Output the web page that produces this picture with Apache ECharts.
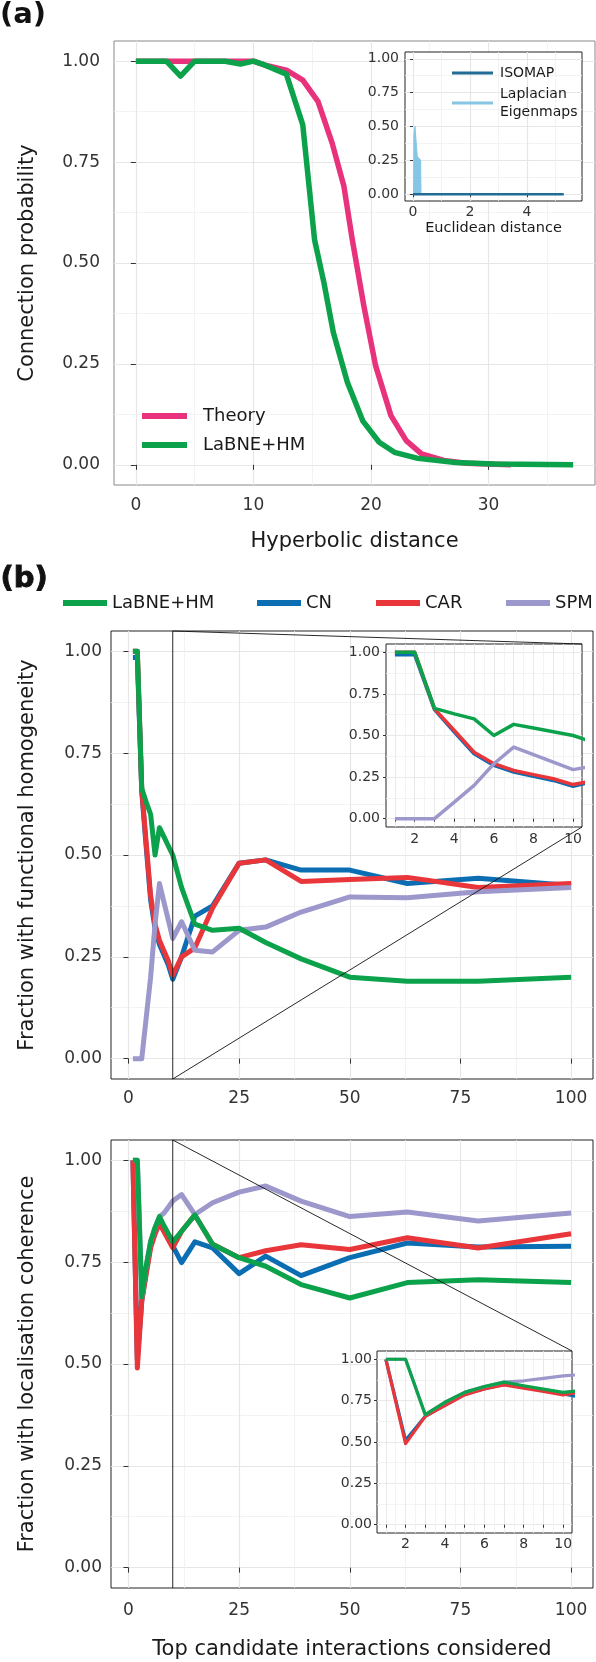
<!DOCTYPE html>
<html><head><meta charset="utf-8">
<script src="https://cdn.jsdelivr.net/npm/echarts@6/dist/echarts.min.js"></script>
<style>html,body{margin:0;padding:0;background:#fff}#c{width:596px;height:1662px}</style>
</head><body><div id="c"></div>
<script>
// ---------------- Panel (a) data ----------------
const theoryDist = [0, 10, 11, 12.8, 14.2, 15.5, 16.7, 17.7, 18.4, 19.4, 20.4, 21.7, 23.0, 24.3, 26.2, 28.1, 31.9];
const theoryProb = [1, 1, 0.99, 0.978, 0.953, 0.90, 0.797, 0.69, 0.56, 0.393, 0.245, 0.122, 0.06, 0.027, 0.011, 0.004, 0];
const labneDist = [0, 2.6, 3.8, 5.0, 7.6, 8.9, 10.0, 11.0, 12.8, 14.2, 15.2, 16.0, 16.8, 18.0, 19.3, 20.7, 22.0, 24.0, 27.2, 30.5, 37.2];
const labneProb = [1, 1, 0.963, 1, 1, 0.993, 1, 0.99, 0.968, 0.842, 0.558, 0.451, 0.328, 0.204, 0.109, 0.056, 0.031, 0.016, 0.006, 0.002, 0];
const isomapDist = [0, 5.29];
const isomapProb = [0, 0];
const lapDist = [0.02, 0.035, 0.07, 0.105, 0.13, 0.15, 0.2, 0.27, 0.28];
const lapProb = [0, 0.44, 0.50, 0.51, 0.50, 0.28, 0.27, 0.25, 0];
const aXTicks = [0, 10, 20, 30];
const aXMinor = [5, 15, 25, 35];
const probTicks = [0, 0.25, 0.5, 0.75, 1];
const probMinor = [0.125, 0.375, 0.625, 0.875];
const insetATicks = [0, 2, 4];
const insetAMinor = [1, 3, 5];

// ---------------- Panel (b) data ----------------
const topK = [1, 2, 3, 4, 5, 6, 7, 8, 9, 10, 12, 15, 19, 25, 31, 39, 50, 63, 79, 100];
const fhLabne = [1.0, 1.0, 0.663, 0.63, 0.60, 0.50, 0.567, 0.545, 0.522, 0.50, 0.42, 0.33, 0.315, 0.32, 0.285, 0.245, 0.20, 0.19, 0.19, 0.20];
const fhCN    = [0.985, 0.985, 0.655, 0.52, 0.39, 0.32, 0.28, 0.255, 0.23, 0.195, 0.25, 0.35, 0.375, 0.48, 0.488, 0.463, 0.463, 0.43, 0.443, 0.425];
const fhCAR   = [1.0, 1.0, 0.66, 0.53, 0.40, 0.33, 0.29, 0.265, 0.24, 0.205, 0.25, 0.272, 0.37, 0.48, 0.488, 0.435, 0.44, 0.445, 0.42, 0.43];
const fhSPM   = [0, 0, 0, 0.10, 0.20, 0.33, 0.43, 0.385, 0.34, 0.295, 0.336, 0.266, 0.262, 0.315, 0.323, 0.36, 0.397, 0.395, 0.41, 0.42];
const lcLabne = [1.0, 1.0, 0.665, 0.74, 0.80, 0.835, 0.862, 0.84, 0.82, 0.80, 0.826, 0.866, 0.794, 0.761, 0.74, 0.695, 0.662, 0.70, 0.707, 0.70];
const lcCN    = [1.0, 0.51, 0.655, 0.725, 0.79, 0.82, 0.85, 0.83, 0.81, 0.79, 0.749, 0.80, 0.785, 0.722, 0.765, 0.717, 0.761, 0.797, 0.787, 0.789];
const lcCAR   = [1.0, 0.49, 0.655, 0.72, 0.785, 0.82, 0.845, 0.825, 0.805, 0.785, 0.826, 0.866, 0.794, 0.761, 0.778, 0.793, 0.781, 0.81, 0.785, 0.82];
const lcSPM   = [1.0, 1.0, 0.665, 0.74, 0.80, 0.835, 0.862, 0.87, 0.885, 0.90, 0.916, 0.867, 0.896, 0.922, 0.937, 0.90, 0.862, 0.873, 0.851, 0.871];
const bXTicks = [0, 25, 50, 75, 100];
const bXMinor = [12.5, 37.5, 62.5, 87.5];
const zoomK = [1, 2, 3, 4, 5, 6, 7, 8, 9, 10];
const zoomKLabels = [2, 4, 6, 8, 10];
const zoomKMinor = [1.5, 2.5, 3.5, 4.5, 5.5, 6.5, 7.5, 8.5, 9.5];
const zoomMaxK = 10;
const methodNames = ['LaBNE+HM', 'CN', 'CAR', 'SPM'];

const FONT = 'DejaVu Sans';
const C = {green:'#0BA24B', pink:'#E8327C', blue:'#0B6DB2', red:'#E8363A', purple:'#9C98CB', iso:'#216D96', lap:'#86C6E4'};
const pairs = (xs, ys) => xs.map((x, i) => [x, ys[i]]);

const grids = [
  {left:114, top:41,   width:481, height:444, show:true, backgroundColor:'#fff', borderColor:'#888', borderWidth:1, z:0},
  {left:405, top:52,   width:177, height:149, show:true, backgroundColor:'#fff', borderColor:'#222', borderWidth:1, z:3},
  {left:111, top:631,  width:482, height:448, show:true, backgroundColor:'#fff', borderColor:'#222', borderWidth:1, z:0},
  {left:386, top:644,  width:196, height:183, show:true, backgroundColor:'#fff', borderColor:'#222', borderWidth:1, z:3},
  {left:111, top:1140, width:482, height:448, show:true, backgroundColor:'#fff', borderColor:'#222', borderWidth:1, z:0},
  {left:377, top:1351, width:195, height:182, show:true, backgroundColor:'#fff', borderColor:'#222', borderWidth:1, z:3}
];

const xAxes = [], yAxes = [];
function addAxis(list, kind, gi, c) {
  const z = c.z || 0;
  list.push({
    type:'value', gridIndex:gi, min:c.min, max:c.max, z:z,
    position: kind === 'x' ? 'bottom' : 'left',
    axisLine:{show:false},
    axisTick:{show:true, customValues:c.ticks, length:c.tickLen, lineStyle:{color:'#333', width:1}},
    axisLabel:{customValues:c.labels || c.ticks, formatter:c.fmt, fontFamily:FONT, fontSize:c.fontSize, color:'#333', margin:c.margin},
    splitLine:{show:true, lineStyle:{color:'#e6e6e6', width:c.gw || 1.2}},
    name:c.name || '', nameLocation:'middle', nameGap:c.nameGap || 0,
    nameTextStyle:{fontFamily:FONT, fontSize:c.nameSize || 21, color:'#1a1a1a'}
  });
  const idx = list.length - 1;
  list.push({
    type:'value', gridIndex:gi, min:c.min, max:c.max, z:z,
    position: kind === 'x' ? 'top' : 'right',
    axisLine:{show:false}, axisTick:{show:false, customValues:c.minor}, axisLabel:{show:false},
    splitLine:{show:true, lineStyle:{color:'#f0f0f0', width:c.mw || 0.8}}
  });
  return idx;
}
const f2 = v => v.toFixed(2);
const f0 = v => String(v);

// grid 0: panel (a) main
const ax0 = addAxis(xAxes, 'x', 0, {min:-1.86, max:39.06, ticks:aXTicks, minor:aXMinor, fmt:f0, fontSize:17, margin:12, tickLen:5, name:'Hyperbolic distance', nameGap:46});
const ay0 = addAxis(yAxes, 'y', 0, {min:-0.05, max:1.05, ticks:probTicks, minor:probMinor, fmt:f2, fontSize:17, margin:14, tickLen:5, name:'Connection probability', nameGap:76});
// grid 1: panel (a) inset
const ax1 = addAxis(xAxes, 'x', 1, {min:-0.28, max:5.93, ticks:insetATicks, minor:insetAMinor, fmt:f0, fontSize:14, margin:4, tickLen:3, name:'Euclidean distance', nameGap:20, nameSize:14.5, z:4});
const ay1 = addAxis(yAxes, 'y', 1, {min:-0.05, max:1.05, ticks:probTicks, minor:probMinor, fmt:f2, fontSize:14, margin:6, tickLen:3, z:4});
// grid 2: (b) functional homogeneity
const ax2 = addAxis(xAxes, 'x', 2, {min:-3.95, max:104.95, ticks:bXTicks, minor:bXMinor, fmt:f0, fontSize:17, margin:11, tickLen:5});
const ay2 = addAxis(yAxes, 'y', 2, {min:-0.05, max:1.05, ticks:probTicks, minor:probMinor, fmt:f2, fontSize:17, margin:9, tickLen:5, name:'Fraction with functional homogeneity', nameGap:73});
// grid 3: its inset
const ax3 = addAxis(xAxes, 'x', 3, {min:0.55, max:10.45, ticks:zoomK, labels:zoomKLabels, minor:zoomKMinor, fmt:f0, fontSize:14, margin:5, tickLen:3, gw:0.9, z:4});
const ay3 = addAxis(yAxes, 'y', 3, {min:-0.05, max:1.05, ticks:probTicks, minor:probMinor, fmt:f2, fontSize:14, margin:6, tickLen:3, gw:0.9, z:4});
// grid 4: (b) localisation coherence
const ax4 = addAxis(xAxes, 'x', 4, {min:-3.95, max:104.95, ticks:bXTicks, minor:bXMinor, fmt:f0, fontSize:17, margin:14, tickLen:5, name:'Top candidate interactions considered', nameGap:51});
const ay4 = addAxis(yAxes, 'y', 4, {min:-0.05, max:1.05, ticks:probTicks, minor:probMinor, fmt:f2, fontSize:17, margin:9, tickLen:5, name:'Fraction with localisation coherence', nameGap:73});
// grid 5: its inset
const ax5 = addAxis(xAxes, 'x', 5, {min:0.55, max:10.45, ticks:zoomK, labels:zoomKLabels, minor:zoomKMinor, fmt:f0, fontSize:14, margin:4, tickLen:3, gw:0.9, z:4});
const ay5 = addAxis(yAxes, 'y', 5, {min:-0.05, max:1.05, ticks:probTicks, minor:probMinor, fmt:f2, fontSize:14, margin:5, tickLen:3, gw:0.9, z:4});

function line(name, xi, yi, data, color, width, z, extra) {
  return Object.assign({
    type:'line', name:name, xAxisIndex:xi, yAxisIndex:yi, data:data,
    showSymbol:false, symbol:'none', color:color, itemStyle:{color:color},
    lineStyle:{color:color, width:width, cap:'butt', join:'round'},
    z:z, silent:true, clip:true
  }, extra || {});
}

const series = [
  line('Theory', ax0, ay0, pairs(theoryDist, theoryProb), C.pink, 5.5, 2),
  line('LaBNE+HM', ax0, ay0, pairs(labneDist, labneProb), C.green, 5.5, 3),
  line('Laplacian Eigenmaps', ax1, ay1, pairs(lapDist, lapProb), C.lap, 1, 6, {areaStyle:{color:C.lap, opacity:1}}),
  line('ISOMAP', ax1, ay1, pairs(isomapDist, isomapProb), C.iso, 2.5, 7)
];
function bSet(xi, yi, lab, cn, car, spm, w, zb) {
  series.push(line('CN', xi, yi, pairs(topK, cn), C.blue, w, zb));
  series.push(line('CAR', xi, yi, pairs(topK, car), C.red, w, zb + 1));
  series.push(line('SPM', xi, yi, pairs(topK, spm), C.purple, w, zb + 2));
  series.push(line('LaBNE+HM', xi, yi, pairs(topK, lab), C.green, w, zb + 3));
}
bSet(ax2, ay2, fhLabne, fhCN, fhCAR, fhSPM, 5, 2);
bSet(ax3, ay3, fhLabne, fhCN, fhCAR, fhSPM, 3.5, 6);
bSet(ax4, ay4, lcLabne, lcCN, lcCAR, lcSPM, 5, 2);
bSet(ax5, ay5, lcLabne, lcCN, lcCAR, lcSPM, 3.2, 6);

const legendText = {fontFamily:FONT, fontSize:18, color:'#1a1a1a', lineHeight:18};
const legends = [
  {data:['Theory', 'LaBNE+HM'], orient:'vertical', left:137, top:402, itemWidth:45, itemHeight:6, itemGap:11, icon:'rect',
   selectedMode:false, itemStyle:{borderWidth:0}, textStyle:Object.assign({padding:[0,0,0,11]}, legendText)},
  {data:['ISOMAP', 'Laplacian Eigenmaps'], orient:'vertical', left:447, top:59, itemWidth:41, itemHeight:3, itemGap:3, icon:'rect', z:8,
   selectedMode:false, itemStyle:{borderWidth:0}, formatter: n => n.replace(' ', '\n'),
   textStyle:{fontFamily:FONT, fontSize:14, color:'#1a1a1a', lineHeight:18, padding:[0,0,0,2]}}
];
const bLegendLeft = [63, 257, 376, 506];
methodNames.forEach((n, i) => legends.push({
  data:[n], orient:'horizontal', left:bLegendLeft[i], top:594, itemWidth:44, itemHeight:6, icon:'rect', padding:0,
  selectedMode:false, itemStyle:{borderWidth:0}, textStyle:legendText
}));

const labels = [
  {type:'text', id:'la', left:0, top:1, style:{text:'(a)', font:'bold 29px "DejaVu Sans"', fill:'#111'}},
  {type:'text', id:'lb', left:0, top:565, style:{text:'(b)', font:'bold 29px "DejaVu Sans"', fill:'#111'}}
];

const option = {
  animation:false, backgroundColor:'#fff', textStyle:{fontFamily:FONT},
  grid:grids, xAxis:xAxes, yAxis:yAxes, legend:legends, series:series, graphic:labels
};
const chart = echarts.init(document.getElementById('c'), null, {renderer:'canvas'});
chart.setOption(option);

// zoom-indicator lines, placed through the axes' own scales
function px(xi, yi, p) { return chart.convertToPixel({xAxisIndex:xi, yAxisIndex:yi}, p); }
function connectors(mx, my, ix, iy, tag) {
  const top = px(mx, my, [zoomMaxK, 1.05]);
  const bot = px(mx, my, [zoomMaxK, -0.05]);
  const tr = px(ix, iy, [10.45, 1.05]);
  const br = px(ix, iy, [10.45, -0.05]);
  const st = {stroke:'#111', lineWidth:0.9};
  return [
    {type:'line', id:tag+'v', z:50, shape:{x1:top[0], y1:top[1], x2:bot[0], y2:bot[1]}, style:st},
    {type:'line', id:tag+'t', z:50, shape:{x1:top[0], y1:top[1], x2:tr[0], y2:tr[1]}, style:st},
    {type:'line', id:tag+'b', z:50, shape:{x1:bot[0], y1:bot[1], x2:br[0], y2:br[1]}, style:st}
  ];
}
chart.setOption({graphic: connectors(ax2, ay2, ax3, ay3, 'u').concat(connectors(ax4, ay4, ax5, ay5, 'l'))});
</script></body></html>
